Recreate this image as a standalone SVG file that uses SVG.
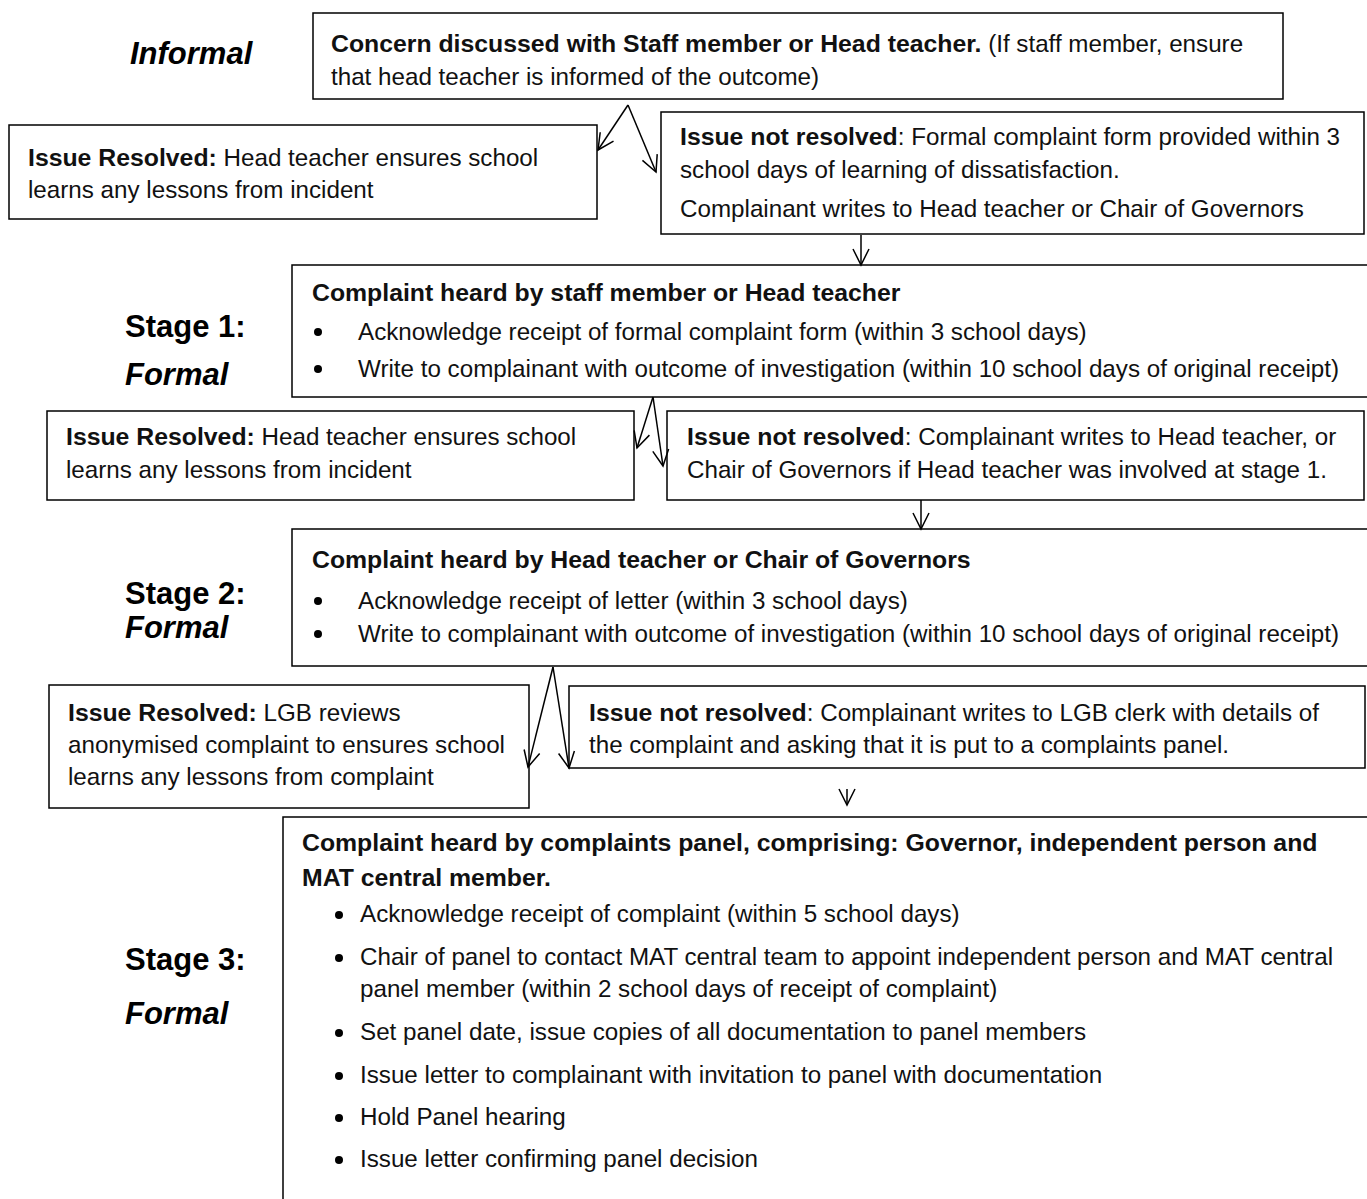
<svg xmlns="http://www.w3.org/2000/svg" width="1367" height="1199" viewBox="0 0 1367 1199">
<style>
.box{fill:#fff;stroke:#000;stroke-width:1.5}
.t{font-family:"Liberation Sans",Arial,sans-serif;font-size:24.2px;fill:#111}
.b{font-weight:bold;font-size:24.8px}
.lab{font-family:"Liberation Sans",Arial,sans-serif;font-size:31px;font-weight:bold;fill:#000}
.it{font-style:italic}
.con{fill:none;stroke:#000;stroke-width:1.5}
</style>
<defs>
<marker id="ah" viewBox="0 0 20 20" refX="18" refY="10" markerWidth="20" markerHeight="20" markerUnits="userSpaceOnUse" orient="auto">
<path d="M2,2 L18,10 L2,18" fill="none" stroke="#000" stroke-width="1.5"/>
</marker>
</defs>
<rect width="1367" height="1199" fill="#fff"/>

<g id="labels">
<text class="lab it" x="130" y="64">Informal</text>
<text class="lab" x="125" y="337">Stage 1:</text>
<text class="lab it" x="125" y="385">Formal</text>
<text class="lab" x="125" y="604">Stage 2:</text>
<text class="lab it" x="125" y="638">Formal</text>
<text class="lab" x="125" y="970">Stage 3:</text>
<text class="lab it" x="125" y="1024">Formal</text>
</g>

<g id="informal-concern">
<rect class="box" x="313" y="13" width="970" height="86"/>
<text class="t" x="331" y="52"><tspan class="b">Concern discussed with Staff member or Head teacher.</tspan>  (If staff member, ensure</text>
<text class="t" x="331" y="85">that head teacher is informed of the outcome)</text>
</g>

<g id="informal-resolved">
<rect class="box" x="9" y="125" width="588" height="94"/>
<text class="t" x="28" y="166"><tspan class="b">Issue Resolved:</tspan> Head teacher ensures school</text>
<text class="t" x="28" y="198">learns any lessons from incident</text>
</g>

<g id="informal-not-resolved">
<rect class="box" x="661" y="112" width="703" height="122"/>
<text class="t" x="680" y="145"><tspan class="b">Issue not resolved</tspan>:  Formal complaint form provided within 3</text>
<text class="t" x="680" y="178">school days of learning of dissatisfaction.</text>
<text class="t" x="680" y="217">Complainant writes to Head teacher or Chair of Governors</text>
</g>

<g id="stage1">
<rect class="box" x="292" y="265" width="1090" height="132"/>
<text class="t b" x="312" y="301">Complaint heard by staff member or Head teacher</text>
<circle cx="318" cy="332" r="4"/>
<text class="t" x="358" y="340">Acknowledge receipt of formal complaint form (within 3 school days)</text>
<circle cx="318" cy="369" r="4"/>
<text class="t" x="358" y="377">Write to complainant with outcome of investigation (within 10 school days of original receipt)</text>
</g>

<g id="stage1-resolved">
<rect class="box" x="47" y="411" width="587" height="89"/>
<text class="t" x="66" y="445"><tspan class="b">Issue Resolved:</tspan> Head teacher ensures school</text>
<text class="t" x="66" y="478">learns any lessons from incident</text>
</g>

<g id="stage1-not-resolved">
<rect class="box" x="667" y="411" width="697" height="89"/>
<text class="t" x="687" y="445"><tspan class="b">Issue not resolved</tspan>:  Complainant writes to Head teacher, or</text>
<text class="t" x="687" y="478">Chair of Governors if Head teacher was involved at stage 1.</text>
</g>

<g id="stage2">
<rect class="box" x="292" y="529" width="1090" height="137"/>
<text class="t b" x="312" y="568">Complaint heard by Head teacher or Chair of Governors</text>
<circle cx="318" cy="601" r="4"/>
<text class="t" x="358" y="609">Acknowledge receipt of letter (within 3 school days)</text>
<circle cx="318" cy="634" r="4"/>
<text class="t" x="358" y="642">Write to complainant with outcome of investigation (within 10 school days of original receipt)</text>
</g>

<g id="stage2-resolved">
<rect class="box" x="49" y="685" width="480" height="123"/>
<text class="t" x="68" y="721"><tspan class="b">Issue Resolved:</tspan>  LGB reviews</text>
<text class="t" x="68" y="753">anonymised complaint to ensures school</text>
<text class="t" x="68" y="785">learns any lessons from complaint</text>
</g>

<g id="stage2-not-resolved">
<rect class="box" x="569" y="686" width="796" height="82"/>
<text class="t" x="589" y="721"><tspan class="b">Issue not resolved</tspan>:  Complainant writes to LGB clerk with details of</text>
<text class="t" x="589" y="753">the complaint and asking that it is put to a complaints panel.</text>
</g>

<g id="stage3">
<rect class="box" x="283" y="817" width="1100" height="400"/>
<text class="t b" x="302" y="851">Complaint heard by complaints panel, comprising: Governor, independent person and</text>
<text class="t b" x="302" y="886">MAT central member.</text>
<circle cx="339" cy="915" r="4"/>
<text class="t" x="360" y="922">Acknowledge receipt of complaint (within 5 school days)</text>
<circle cx="339" cy="958" r="4"/>
<text class="t" x="360" y="965">Chair of panel to contact MAT central team to appoint independent person and MAT central</text>
<text class="t" x="360" y="997">panel member (within 2 school days of receipt of complaint)</text>
<circle cx="339" cy="1033" r="4"/>
<text class="t" x="360" y="1040">Set panel date, issue copies of all documentation to panel members</text>
<circle cx="339" cy="1076" r="4"/>
<text class="t" x="360" y="1083">Issue letter to complainant with invitation to panel with documentation</text>
<circle cx="339" cy="1118" r="4"/>
<text class="t" x="360" y="1125">Hold Panel hearing</text>
<circle cx="339" cy="1160" r="4"/>
<text class="t" x="360" y="1167">Issue letter confirming panel decision</text>
</g>

<g id="connectors">
<path class="con" d="M628,105 L598,150" marker-end="url(#ah)"/>
<path class="con" d="M628,105 L656,172" marker-end="url(#ah)"/>
<path class="con" d="M861,235 L861,265" marker-end="url(#ah)"/>
<path class="con" d="M653,397 L637,448" marker-end="url(#ah)"/>
<path class="con" d="M653,397 L663,466" marker-end="url(#ah)"/>
<path class="con" d="M921,500 L921,529" marker-end="url(#ah)"/>
<path class="con" d="M553,667 L528,767" marker-end="url(#ah)"/>
<path class="con" d="M553,667 L569,768" marker-end="url(#ah)"/>
<path class="con" d="M847,789 L847,805" marker-end="url(#ah)"/>
</g>
</svg>
